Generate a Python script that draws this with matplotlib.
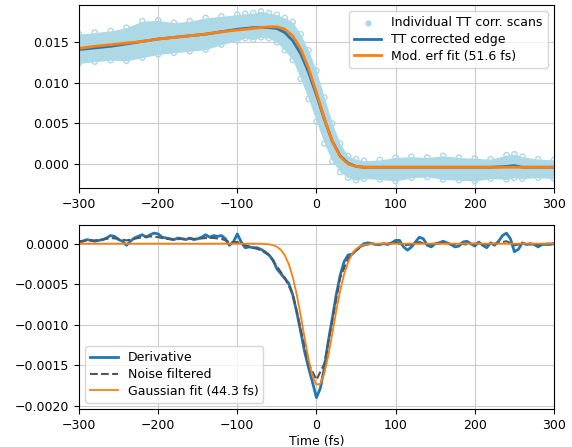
#!/usr/bin/env python3

import matplotlib
matplotlib.use('Agg')
import matplotlib.pyplot as plt

# Top panel: time axis for the edge (fs)
t_edge = [-300, -280, -260, -240, -220, -200, -180, -160, -140, -120, -100, -90, -80, -70,
          -60, -50, -40, -30, -20, -10, 0, 10, 20, 30, 40, 50, 60, 80, 100, 120, 140, 160,
          180, 200, 220, 240, 250, 260, 280, 300]

# TT corrected edge (mean of scans)
edge = [0.0141, 0.0143, 0.0145, 0.0148, 0.0151, 0.0154, 0.0156, 0.0158, 0.0160, 0.0163,
        0.0166, 0.0167, 0.0168, 0.0168, 0.0168, 0.0167, 0.0162, 0.0152, 0.0136, 0.0113,
        0.0085, 0.0055, 0.0028, 0.0010, 0.0001, -0.0003, -0.0004, -0.0004, -0.0004, -0.0004,
        -0.0004, -0.0004, -0.0004, -0.0004, -0.0004, -0.0003, -0.0002, -0.0004, -0.0004, -0.0004]

# modified erf fit
erf_fit = [0.01425, 0.0145, 0.0147, 0.0149, 0.0151, 0.0154, 0.0156, 0.0158, 0.0160, 0.0163,
           0.0165, 0.0166, 0.0167, 0.0168, 0.0169, 0.0169, 0.0166, 0.0158, 0.0142, 0.0118,
           0.0088, 0.0056, 0.0028, 0.0009, 0.0000, -0.0003, -0.0004, -0.0004, -0.0004, -0.0004,
           -0.0004, -0.0004, -0.0004, -0.0004, -0.0004, -0.0004, -0.0004, -0.0004, -0.0004, -0.0004]

# spread of the individual scans (upper / lower edge of the cloud)
scans_hi = [0.0160, 0.0162, 0.0164, 0.0168, 0.0176, 0.0177, 0.0174, 0.0176, 0.0180, 0.0182,
            0.0184, 0.0185, 0.0186, 0.0188, 0.0186, 0.0184, 0.0180, 0.0175, 0.0160, 0.0140,
            0.0115, 0.0082, 0.0050, 0.0025, 0.0010, 0.0006, 0.0004, 0.0005, 0.0008, 0.0009,
            0.0008, 0.0010, 0.0008, 0.0007, 0.0006, 0.0011, 0.0012, 0.0009, 0.0006, 0.0005]
scans_lo = [0.0124, 0.0126, 0.0128, 0.0127, 0.0131, 0.0135, 0.0137, 0.0139, 0.0141, 0.0147,
            0.0152, 0.0155, 0.0153, 0.0156, 0.0155, 0.0150, 0.0140, 0.0128, 0.0105, 0.0080,
            0.0052, 0.0025, 0.0003, -0.0010, -0.0017, -0.0020, -0.0018, -0.0019, -0.0021, -0.0017,
            -0.0016, -0.0019, -0.0020, -0.0021, -0.0018, -0.0019, -0.0017, -0.0018, -0.0017, -0.0018]

# Bottom panel: derivative of the edge, 5 fs steps
t_der = list(range(-300, 305, 5))
deriv = [0.00002, 0.00003, 0.00005, 0.00004, 0.00003, 0.00004, 0.00005, 0.00007, 0.00010, 0.00009,
         0.00005, 0.00003, -0.00002, 0.00003, 0.00007, 0.00009, 0.00011, 0.00008, 0.00011, 0.00013,
         0.00012, 0.00008, 0.00007, 0.00006, 0.00005, 0.00007, 0.00006, 0.00005, 0.00007, 0.00005,
         0.00006, 0.00008, 0.00011, 0.00008, 0.00010, 0.00009, 0.00010, 0.00006, -0.00002, 0.00002,
         0.00012, 0.00002, -0.00005, -0.00004, -0.00005, -0.00005, -0.00007, -0.00010, -0.00014, -0.00020,
         -0.00031, -0.00037, -0.00043, -0.00049, -0.00063, -0.00084, -0.00108, -0.00133, -0.00153, -0.00171,
         -0.00190, -0.00178, -0.00153, -0.00120, -0.00092, -0.00063, -0.00039, -0.00022, -0.00014, -0.00013,
         -0.00008, -0.00004, 0.00000, 0.00001, 0.00000, -0.00001, -0.00001, -0.00000, -0.00001, 0.00001,
         0.00004, 0.00004, -0.00004, -0.00008, -0.00004, 0.00002, 0.00008, 0.00006, -0.00002, -0.00004,
         0.00000, 0.00001, 0.00003, 0.00001, -0.00001, -0.00004, -0.00003, 0.00002, 0.00003, 0.00000,
         -0.00003, 0.00002, -0.00002, -0.00005, 0.00001, -0.00002, 0.00003, 0.00010, 0.00013, 0.00006,
         -0.00010, -0.00007, 0.00001, -0.00001, 0.00000, -0.00001, -0.00004, -0.00001, -0.00001, -0.00001,
         0.00000]

t_filt = list(range(-300, 310, 10))
filtered = [0.00003, 0.00004, 0.00004, 0.00005, 0.00007, 0.00006, 0.00004, 0.00006, 0.00008, 0.00009,
            0.00008, 0.00006, 0.00005, 0.00006, 0.00006, 0.00006, 0.00007, 0.00007, 0.00006, 0.00002,
            0.00002, -0.00002, -0.00005, -0.00008, -0.00014, -0.00028, -0.00042, -0.00062, -0.00105, -0.00148,
            -0.00168, -0.00148, -0.00095, -0.00042, -0.00018, -0.00008, -0.00002, 0.00000, -0.00001, 0.00000,
            0.00002, -0.00002, -0.00001, 0.00002, -0.00001, 0.00000, 0.00001, -0.00001, 0.00000, -0.00001,
            0.00000, -0.00001, -0.00001, 0.00001, 0.00003, -0.00002, 0.00000, -0.00001, -0.00001, 0.00000,
            0.00000]

t_gauss = [-300, -80, -70, -60, -55, -50, -45, -40, -35, -30, -25, -20, -15, -10, -5, 0, 5,
           10, 15, 20, 25, 30, 35, 40, 45, 50, 55, 60, 70, 80, 300]
gauss = [0.0, 0.0, -0.0000011, -0.0000076, -0.000018, -0.000038, -0.000077, -0.000144, -0.000252,
         -0.000411, -0.000624, -0.000882, -0.001162, -0.001427, -0.001633, -0.001740, -0.001728,
         -0.001598, -0.001378, -0.001107, -0.000828, -0.000577, -0.000375, -0.000227, -0.000128,
         -0.000067, -0.000033, -0.000015, -0.0000025, 0.0, 0.0]

plt.rcParams['font.size'] = 9
fig = plt.figure(figsize=(5.72, 4.47), dpi=100)
ax1 = fig.add_axes([0.138, 0.5794, 0.8305, 0.4096])
ax2 = fig.add_axes([0.138, 0.085, 0.8305, 0.4116])

# cloud of individual scans
ax1.fill_between(t_edge, scans_lo, scans_hi, color='lightblue', lw=0)
ax1.scatter(t_edge + t_edge, scans_hi + scans_lo, s=14, facecolors='none',
            edgecolors='lightblue', linewidths=1.0)
ax1.scatter([], [], s=12, color='lightblue', label='Individual TT corr. scans')
ax1.plot(t_edge, edge, color='#1f77b4', lw=2, label='TT corrected edge')
ax1.plot(t_edge, erf_fit, color='#ff7f0e', lw=2, label='Mod. erf fit (51.6 fs)')
ax1.set_xlim(-300, 300)
ax1.set_ylim(-0.00296, 0.0196)
ax1.set_yticks([0.0, 0.005, 0.010, 0.015])
ax1.grid(True, color='#cccccc')
ax1.set_axisbelow(True)
ax1.legend(loc='upper right', handlelength=2.2, borderpad=0.4, labelspacing=0.3)

ax2.plot(t_der, deriv, color='#1f77b4', lw=2, label='Derivative')
ax2.plot(t_filt, filtered, color='#555555', lw=1.5, ls='--', label='Noise filtered')
ax2.plot(t_gauss, gauss, color='#ff7f0e', lw=1.3, label='Gaussian fit (44.3 fs)')
ax2.set_xlim(-300, 300)
ax2.set_ylim(-0.00204, 0.00023)
ax2.set_yticks([0.0, -0.0005, -0.0010, -0.0015, -0.0020])
ax2.set_yticklabels(['0.0000', '\u22120.0005', '\u22120.0010', '\u22120.0015', '\u22120.0020'])
ax2.grid(True, color='#cccccc')
ax2.legend(loc='lower left', handlelength=2.2, borderpad=0.4, labelspacing=0.3)
ax2.set_xlabel('Time (fs)', labelpad=2)

fig.savefig('out.png', dpi=100)
